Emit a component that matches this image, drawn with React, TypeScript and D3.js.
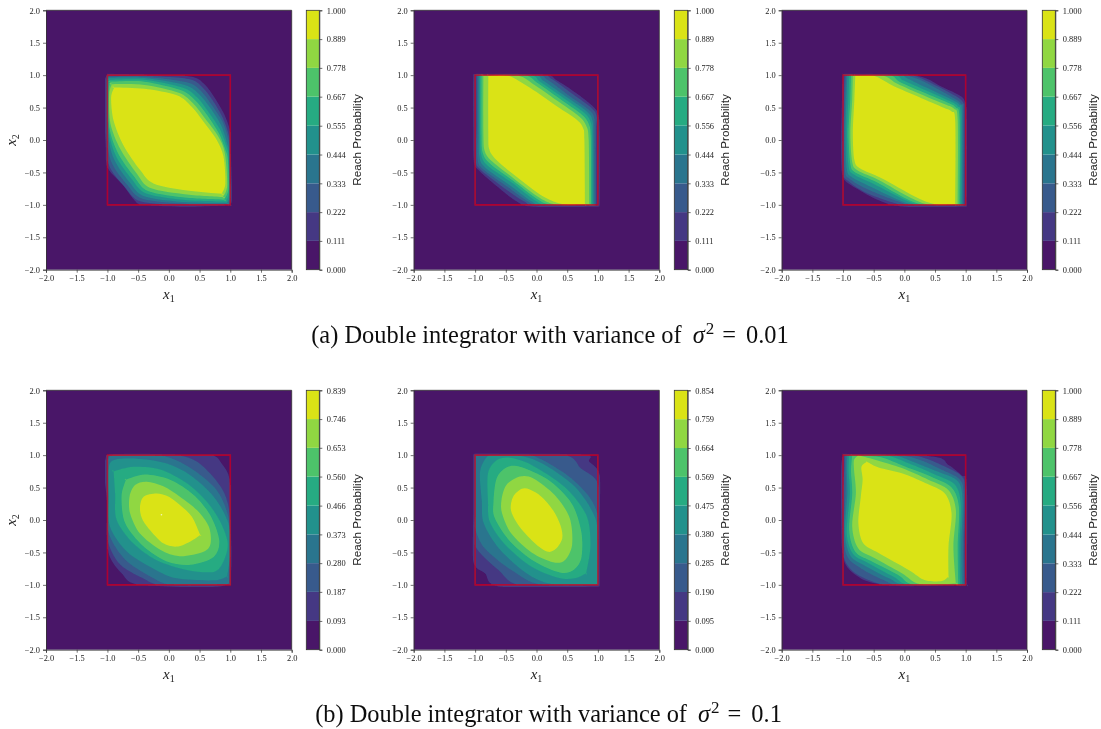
import React, { useEffect, useRef } from "react";
import * as d3 from "d3";

type Pt = [number, number];

const axisTicks = [-2, -1.5, -1, -0.5, 0, 0.5, 1, 1.5, 2];
const boxCorners: Pt[] = [[-1, 1], [1, 1], [1, -1], [-1, -1]];
const outerClip = { xMin: -1.04, xMax: 1.04, yMin: -1.035, yMax: 1.025 };
const innerClip = { xMin: -1.012, xMax: 1.012, yMin: -1.005, yMax: 1.005 };

const cbarA1 = [0, 0.111, 0.222, 0.333, 0.444, 0.555, 0.667, 0.778, 0.889, 1];
const cbarStd = [0, 0.111, 0.222, 0.333, 0.444, 0.556, 0.667, 0.778, 0.889, 1];
const cbarB1 = [0, 0.093, 0.187, 0.28, 0.373, 0.466, 0.56, 0.653, 0.746, 0.839];
const cbarB2 = [0, 0.095, 0.19, 0.285, 0.38, 0.475, 0.569, 0.664, 0.759, 0.854];

// Contour rings, lowest level first, in data coordinates
const ringsA1: Pt[][] = [
  [[-1,1.02],[-.4,1.01],[.35,.98],[.58,.86],[.74,.66],[.9,.4],[1,.12],[1.01,-.2],[1.03,-.9],[.98,-1.01],[.2,-1.03],[-.42,-1],[-.56,-.93],[-.76,-.68],[-1,-.42],[-1.03,-.05],[-1.06,.8]],
  [[-1,.99],[-.4,.99],[.32,.94],[.55,.81],[.72,.6],[.88,.34],[.98,.06],[1,-.2],[1.01,-.9],[.97,-1],[.3,-1.01],[-.45,-.95],[-.72,-.72],[-.97,-.4],[-1.02,0],[-1.04,.8]],
  [[-.99,.975],[-.4,.975],[.29,.89],[.52,.76],[.69,.55],[.87,.29],[.97,.01],[.99,-.2],[1,-.88],[.96,-.99],[.3,-.985],[-.42,-.91],[-.68,-.69],[-.93,-.35],[-1.01,.05],[-1.02,.85]],
  [[-.98,.96],[-.4,.955],[.26,.85],[.49,.71],[.67,.5],[.85,.23],[.95,-.05],[.98,-.2],[.99,-.85],[.94,-.97],[.3,-.96],[-.39,-.87],[-.64,-.65],[-.89,-.3],[-.99,.1],[-1,.85]],
  [[-.97,.93],[-.4,.93],[.22,.81],[.46,.66],[.64,.44],[.83,.17],[.94,-.1],[.97,-.25],[.98,-.8],[.92,-.95],[.3,-.93],[-.36,-.83],[-.6,-.61],[-.86,-.25],[-.98,.15],[-.99,.8]],
  [[-.95,.9],[-.4,.9],[.19,.77],[.43,.61],[.62,.39],[.81,.11],[.92,-.15],[.96,-.3],[.97,-.75],[.9,-.92],[.3,-.89],[-.33,-.79],[-.56,-.57],[-.83,-.2],[-.97,.2],[-.98,.75]],
  [[-.93,.86],[-.4,.85],[.16,.73],[.4,.56],[.59,.33],[.8,.06],[.91,-.2],[.95,-.7],[.88,-.88],[.3,-.84],[-.3,-.74],[-.52,-.52],[-.79,-.14],[-.95,.25],[-.97,.7]],
  [[-.89,.81],[-.4,.79],[.13,.69],[.375,.51],[.565,.28],[.78,0],[.89,-.26],[.92,-.67],[.86,-.83],[.3,-.78],[-.25,-.67],[-.47,-.46],[-.74,-.08],[-.9,.3],[-.94,.65]],
];

const ringsA2: Pt[][] = [
  [[-1,1.02],[.11,1.01],[.33,.92],[.65,.72],[.93,.51],[1.01,.38],[1.03,.1],[1.03,-.98],[1,-1.03],[-.05,-1.03],[-.32,-.95],[-.7,-.67],[-.95,-.46],[-1.02,-.33],[-1.03,.2],[-1.03,.98]],
  [[-.98,1.01],[.05,1.005],[.25,.94],[.6,.7],[.9,.49],[.98,.36],[.97,.1],[.97,-1.02],[0,-1.02],[-.2,-.95],[-.5,-.76],[-.91,-.46],[-.99,-.31],[-.98,.2]],
  [[-.96,1],[0,1],[.18,.93],[.55,.67],[.86,.46],[.94,.34],[.945,.08],[.95,-1.01],[.06,-1.01],[-.14,-.95],[-.46,-.73],[-.87,-.45],[-.96,-.29],[-.96,.15]],
  [[-.94,1],[-.05,1],[.12,.91],[.51,.65],[.82,.44],[.91,.31],[.925,.07],[.93,-1],[.12,-1.01],[-.09,-.94],[-.43,-.7],[-.83,-.43],[-.93,-.26],[-.94,.15]],
  [[-.92,1],[-.11,1],[.07,.89],[.47,.63],[.78,.42],[.88,.28],[.905,.05],[.91,-1],[.18,-1],[-.03,-.93],[-.4,-.66],[-.79,-.4],[-.9,-.23],[-.92,.1]],
  [[-.895,1],[-.2,1],[.03,.87],[.43,.6],[.74,.39],[.85,.25],[.885,.02],[.89,-1],[.26,-1],[.01,-.91],[-.38,-.63],[-.75,-.37],[-.875,-.2],[-.895,.1]],
  [[-.865,.99],[-.3,.99],[-.02,.84],[.39,.57],[.7,.36],[.81,.22],[.85,0],[.86,-1],[.34,-1],[.05,-.89],[-.36,-.6],[-.71,-.34],[-.84,-.18],[-.865,.1]],
  [[-.785,.99],[-.46,.99],[-.1,.8],[.33,.52],[.66,.31],[.76,.18],[.78,0],[.79,-.99],[.44,-.99],[.11,-.87],[-.32,-.57],[-.66,-.3],[-.77,-.14],[-.785,.1]],
];

const ringsA3: Pt[][] = [
  [[-.995,1.02],[.01,1.01],[.36,.95],[.61,.82],[.93,.67],[1,.54],[1.02,.3],[1.02,-1.03],[0,-1.03],[-.42,-.93],[-.91,-.67],[-1.01,-.54],[-1.03,-.3],[-1.03,.1],[-1.01,.85]],
  [[-.97,1.01],[0,1.01],[.2,.98],[.5,.85],[.87,.66],[.97,.56],[.98,.45],[.98,-1.02],[.1,-1.02],[-.2,-.96],[-.65,-.8],[-.92,-.63],[-1,-.5],[-1,.1],[-.98,.85]],
  [[-.95,1],[-.05,1],[.13,.97],[.4,.86],[.82,.64],[.93,.55],[.96,.42],[.96,-1.01],[.16,-1.01],[-.1,-.95],[-.6,-.76],[-.89,-.6],[-.97,-.47],[-.98,.1],[-.96,.8]],
  [[-.93,1],[-.1,1],[.05,.95],[.33,.82],[.78,.62],[.9,.54],[.94,.4],[.94,-1],[.22,-1],[-.05,-.94],[-.55,-.72],[-.86,-.57],[-.94,-.44],[-.96,.1],[-.94,.75]],
  [[-.9,1],[-.17,1],[-.02,.92],[.29,.79],[.74,.6],[.87,.52],[.92,.35],[.92,-1],[.28,-1],[0,-.92],[-.5,-.68],[-.83,-.53],[-.91,-.4],[-.935,.1],[-.91,.7]],
  [[-.87,1],[-.25,1],[-.08,.9],[.25,.76],[.7,.58],[.84,.5],[.9,.32],[.9,-1],[.34,-1],[.04,-.91],[-.45,-.65],[-.8,-.5],[-.88,-.37],[-.91,.1],[-.88,.65]],
  [[-.84,.99],[-.35,.99],[-.14,.88],[.21,.73],[.66,.55],[.81,.48],[.87,.3],[.87,-1],[.42,-1],[.1,-.89],[-.41,-.62],[-.76,-.47],[-.85,-.34],[-.88,.1],[-.85,.62]],
  [[-.8,.99],[-.5,.99],[-.21,.85],[.17,.69],[.61,.51],[.77,.44],[.83,.28],[.83,-.99],[.5,-.99],[.17,-.87],[-.37,-.59],[-.72,-.44],[-.815,-.31],[-.84,.1],[-.815,.62]],
];

const ringsB1: Pt[][] = [
  [[-1,.2],[-1.05,.7],[-1.03,.95],[-.95,1.01],[-.4,1.02],[.4,1],[.73,.99],[.86,.87],[.99,.62],[1,0],[1.02,-.5],[.99,-.9],[.78,-1.03],[-.47,-1],[-.77,-.82],[-.96,-.57],[-1,-.3]],
  [[-1,.2],[-1.01,.92],[-.95,1.01],[0,1.01],[.4,.93],[.67,.72],[.9,.42],[1,.05],[1.01,-.5],[1.01,-1],[.85,-1.01],[-.1,-1.01],[-.42,-.9],[-.8,-.68],[-1,-.3]],
  [[-1,.3],[-1,.88],[-.95,1],[-.2,1],[.1,.93],[.42,.76],[.78,.46],[.97,.05],[1,-.45],[.98,-.97],[.85,-1],[.05,-1],[-.3,-.87],[-.72,-.6],[-.98,-.2]],
  [[-.98,.36],[-.98,.8],[-.875,.93],[-.47,.94],[-.03,.87],[.35,.69],[.73,.36],[.97,-.05],[1,-.51],[.95,-.87],[.73,-.93],[.13,-.9],[-.25,-.75],[-.68,-.49],[-.96,-.1]],
  [[-.875,.41],[-.9,.75],[-.58,.82],[-.14,.78],[.29,.57],[.62,.28],[.84,-.03],[.96,-.36],[.89,-.64],[.73,-.8],[.29,-.77],[-.2,-.62],[-.58,-.36],[-.85,0]],
  [[-.77,.36],[-.7,.62],[-.39,.7],[.02,.62],[.4,.39],[.67,.08],[.82,-.31],[.73,-.57],[.35,-.69],[-.03,-.64],[-.41,-.41],[-.71,-.05]],
  [[-.64,.36],[-.55,.54],[-.36,.59],[-.09,.52],[.18,.36],[.46,.15],[.65,-.1],[.68,-.36],[.565,-.49],[.18,-.56],[-.14,-.46],[-.47,-.21],[-.63,.1]],
  [[-.47,.2],[-.41,.36],[-.2,.41],[0,.36],[.18,.23],[.375,.05],[.51,-.23],[.35,-.33],[.13,-.41],[-.09,-.36],[-.33,-.13],[-.44,.03]],
];

const ringsB2: Pt[][] = [
  [[-1.03,.1],[-1.03,1.03],[.73,1.01],[.86,.9],[1.03,.69],[1.03,0],[1.03,-1.03],[-.57,-1.03],[-.84,-.82],[-1.03,-.64]],
  [[-1.01,.1],[-1.01,1.01],[.41,1.01],[.73,.79],[1.01,.54],[1.01,-.2],[1.01,-1.01],[-.24,-1.01],[-.62,-.77],[-1.01,-.38]],
  [[-1,.1],[-1,1],[-.5,1],[-.08,1],[.46,.72],[.84,.38],[1,.05],[1,-.5],[1,-1],[.08,-1],[-.41,-.77],[-.84,-.44],[-1,-.13]],
  [[-.89,.28],[-.92,.74],[-.81,.97],[-.7,1],[-.32,1],[.08,.88],[.62,.52],[.95,.05],[1,-.38],[1,-.97],[.92,-1],[.3,-1],[-.12,-.85],[-.6,-.45],[-.86,-.05]],
  [[-.79,.28],[-.79,.72],[-.65,.92],[-.43,.96],[-.08,.85],[.46,.51],[.81,.08],[.88,-.38],[.81,-.82],[.62,-.9],[.35,-.89],[-.08,-.72],[-.51,-.38],[-.76,-.03]],
  [[-.7,.28],[-.65,.64],[-.49,.81],[-.27,.82],[.19,.62],[.57,.26],[.73,-.18],[.73,-.59],[.59,-.78],[.38,-.81],[-.03,-.64],[-.43,-.33],[-.68,.03]],
  [[-.57,.31],[-.49,.54],[-.27,.67],[-.05,.64],[.3,.38],[.54,.03],[.58,-.38],[.46,-.62],[.27,-.65],[-.08,-.5],[-.41,-.21],[-.56,.1]],
  [[-.42,.18],[-.38,.36],[-.24,.48],[-.11,.47],[.08,.36],[.27,.15],[.39,-.08],[.42,-.28],[.32,-.44],[.19,-.49],[0,-.38],[-.22,-.17],[-.36,.02]],
];

const ringsB3: Pt[][] = [
  [[-.995,1.02],[.45,.98],[.72,.85],[.93,.69],[1.02,.51],[1.02,-1],[-.04,-1.02],[-.59,-.95],[-.91,-.75],[-1.01,-.51],[-1.03,0],[-1.03,.8]],
  [[-.98,1.01],[0,1.01],[.35,.95],[.67,.82],[.94,.67],[.99,.45],[.98,-.4],[.99,-1.01],[-.1,-1.02],[-.45,-.97],[-.8,-.82],[-.97,-.62],[-1.01,-.3],[-1,.4],[-.98,.8]],
  [[-.96,1],[-.1,1],[.25,.93],[.6,.78],[.9,.63],[.97,.38],[.96,-.4],[.97,-1],[-.05,-1.01],[-.33,-.93],[-.7,-.75],[-.92,-.58],[-.99,-.25],[-.96,.4],[-.96,.8]],
  [[-.93,1],[-.2,1],[.14,.9],[.53,.75],[.87,.6],[.95,.3],[.93,-.4],[.94,-1],[.02,-1],[-.25,-.9],[-.65,-.7],[-.88,-.55],[-.97,-.2],[-.93,.4],[-.94,.8]],
  [[-.9,1],[-.3,1],[.08,.87],[.48,.71],[.82,.55],[.92,.25],[.9,-.4],[.91,-1],[.08,-1],[-.17,-.88],[-.6,-.66],[-.84,-.52],[-.94,-.2],[-.89,.4],[-.91,.75]],
  [[-.85,1],[-.4,.97],[.02,.82],[.43,.67],[.77,.5],[.89,.2],[.87,-.4],[.88,-1],[.15,-1],[-.1,-.85],[-.55,-.63],[-.8,-.49],[-.9,-.15],[-.85,.4],[-.87,.75]],
  [[-.82,.93],[-.75,1],[-.48,.93],[-.04,.8],[.39,.62],[.72,.46],[.84,.15],[.8,-.41],[.84,-.98],[.26,-.99],[-.04,-.82],[-.48,-.59],[-.75,-.44],[-.85,-.1],[-.79,.41],[-.82,.77]],
  [[-.7,.82],[-.61,.9],[-.42,.81],[-.04,.72],[.34,.57],[.66,.41],[.77,.1],[.72,-.41],[.72,-.87],[.61,-.94],[.34,-.93],[.07,-.77],[-.42,-.51],[-.67,-.36],[-.75,-.05],[-.71,.36],[-.68,.62]],
];

const whiteDotB1: Pt = [-0.12, 0.08];

const columns = [
  { x0: 46, x1: 291.7, c0: 306.3, c1: 319.3 },
  { x0: 413.7, x1: 659.3, c0: 674.3, c1: 687.7 },
  { x0: 781.7, x1: 1027, c0: 1042.3, c1: 1055.3 },
];
const rows = [
  { y0: 10.3, y1: 269.7 },
  { y0: 390.3, y1: 649.7 },
];

const panels = [
  { id: "a1", col: 0, row: 0, rings: ringsA1, cbar: cbarA1, ylabel: true, dot: false },
  { id: "a2", col: 1, row: 0, rings: ringsA2, cbar: cbarStd, ylabel: false, dot: false },
  { id: "a3", col: 2, row: 0, rings: ringsA3, cbar: cbarStd, ylabel: false, dot: false },
  { id: "b1", col: 0, row: 1, rings: ringsB1, cbar: cbarB1, ylabel: true, dot: true },
  { id: "b2", col: 1, row: 1, rings: ringsB2, cbar: cbarB2, ylabel: false, dot: false },
  { id: "b3", col: 2, row: 1, rings: ringsB3, cbar: cbarStd, ylabel: false, dot: false },
];

const bandColor = (i: number) => d3.interpolateViridis((i + 0.5) / 9);
const minus = (s: string) => s.replace("-", "\u2212");
const SERIF = "'Liberation Serif', serif";
const SANS = "'Liberation Sans', sans-serif";
const AXIS = "#333";

// Sharp bends are doubled so the spline keeps them as corners instead of bulging past them
function keepCorners(pts: Pt[]): Pt[] {
  const n = pts.length;
  const out: Pt[] = [];
  pts.forEach((p, i) => {
    const a = pts[(i + n - 1) % n];
    const b = pts[(i + 1) % n];
    const t1 = Math.atan2(p[1] - a[1], p[0] - a[0]);
    const t2 = Math.atan2(b[1] - p[1], b[0] - p[0]);
    let d = Math.abs(t2 - t1);
    if (d > Math.PI) d = 2 * Math.PI - d;
    out.push(p);
    if (d > 1.0) out.push(p);
  });
  return out;
}

function styleAxis(sel: d3.Selection<any, any, any, any>) {
  sel.selectAll("path").attr("stroke", AXIS).attr("stroke-width", 0.8);
  sel.selectAll("line").attr("stroke", AXIS).attr("stroke-width", 0.7);
  sel.selectAll("text").attr("fill", "#222").attr("font-family", SERIF).attr("font-size", 8.4);
}

function Panel({ id, col, row, rings, cbar, ylabel, dot }: (typeof panels)[number]) {
  const c = columns[col];
  const r = rows[row];
  const x = d3.scaleLinear().domain([-2, 2]).range([c.x0, c.x1]);
  const y = d3.scaleLinear().domain([-2, 2]).range([r.y1, r.y0]);
  const cy = d3.scaleLinear().domain([0, cbar[cbar.length - 1]]).range([r.y1, r.y0]);
  const ring = d3
    .line<Pt>()
    .x((d) => x(d[0]))
    .y((d) => y(d[1]))
    .curve(d3.curveCardinalClosed.tension(0.1));
  const box = d3
    .line<Pt>()
    .x((d) => x(d[0]))
    .y((d) => y(d[1]))
    .curve(d3.curveLinearClosed);

  const bx = useRef<SVGGElement>(null);
  const ly = useRef<SVGGElement>(null);
  const cb = useRef<SVGGElement>(null);
  useEffect(() => {
    const fmt = (d: any) => minus(d3.format(".1f")(d));
    d3.select(bx.current!)
      .call(d3.axisBottom(x).tickValues(axisTicks).tickFormat(fmt).tickSize(3).tickPadding(2))
      .call(styleAxis);
    d3.select(ly.current!)
      .call(d3.axisLeft(y).tickValues(axisTicks).tickFormat(fmt).tickSize(3).tickPadding(3))
      .call(styleAxis);
    d3.select(cb.current!)
      .call(d3.axisRight(cy).tickValues(cbar).tickFormat(d3.format(".3f") as any).tickSize(3).tickPadding(4.5))
      .call(styleAxis);
  }, []);

  const midX = (c.x0 + c.x1) / 2;
  const midY = (r.y0 + r.y1) / 2;
  const clipRect = (e: typeof outerClip, radius: number) => (
    <rect
      x={x(e.xMin)}
      y={y(e.yMax)}
      width={x(e.xMax) - x(e.xMin)}
      height={y(e.yMin) - y(e.yMax)}
      rx={radius}
    />
  );
  return (
    <g>
      <clipPath id={`outer-${id}`}>{clipRect(outerClip, 3)}</clipPath>
      <clipPath id={`inner-${id}`}>{clipRect(innerClip, 1)}</clipPath>
      <rect x={c.x0} y={r.y0} width={c.x1 - c.x0} height={r.y1 - r.y0} fill={bandColor(0)} />
      {rings.map((pts, i) => (
        <g key={i} clipPath={`url(#${i === 0 ? "outer" : "inner"}-${id})`}>
          <path d={ring(keepCorners(pts)) ?? ""} fill={bandColor(i + 1)} />
        </g>
      ))}
      {dot && <circle cx={x(whiteDotB1[0])} cy={y(whiteDotB1[1])} r={0.8} fill="#f4f6c0" />}
      <path d={box(boxCorners) ?? ""} fill="none" stroke="#d6001c" strokeOpacity={0.72} strokeWidth={1.6} />
      <g ref={bx} transform={`translate(0,${r.y1})`} />
      <g ref={ly} transform={`translate(${c.x0},0)`} />
      <path d={`M${c.x1},${r.y0}H${c.x0}`} stroke={AXIS} strokeWidth={0.8} />
      <path d={`M${c.x1},${r.y0}V${r.y1}`} stroke={AXIS} strokeWidth={0.8} />
      <text x={midX} y={r.y1 + 29} textAnchor="middle" fontFamily={SERIF} fontStyle="italic" fontSize={15} fill="#222">
        x<tspan dy={3} fontSize={10} fontStyle="normal">1</tspan>
      </text>
      {ylabel && (
        <text transform={`translate(${c.x0 - 30},${midY}) rotate(-90)`} textAnchor="middle" fontFamily={SERIF} fontStyle="italic" fontSize={15} fill="#222">
          x<tspan dy={3} fontSize={10} fontStyle="normal">2</tspan>
        </text>
      )}
      {cbar.slice(0, -1).map((v, i) => (
        <rect key={i} x={c.c0} y={cy(cbar[i + 1])} width={c.c1 - c.c0} height={cy(v) - cy(cbar[i + 1])} fill={bandColor(i)} />
      ))}
      <rect x={c.c0} y={r.y0} width={c.c1 - c.c0} height={r.y1 - r.y0} fill="none" stroke={AXIS} strokeWidth={0.8} />
      <g ref={cb} transform={`translate(${c.c1},0)`} />
      <text transform={`translate(${c.c1 + 41.5},${midY}) rotate(-90)`} textAnchor="middle" fontFamily={SANS} fontSize={11.7} fill="#222">
        Reach Probability
      </text>
    </g>
  );
}

function Caption({ x, y, tag, value }: { x: number; y: number; tag: string; value: string }) {
  return (
    <text x={x} y={y} textAnchor="middle" fontFamily={SERIF} fontSize={24.4} fill="#111">
      {`(${tag}) Double integrator with variance of `}
      <tspan dx={5} fontStyle="italic">{"\u03C3"}</tspan>
      <tspan dy={-9} dx={1} fontSize={17}>2</tspan>
      <tspan dy={9} dx={8}>=</tspan>
      <tspan dx={10}>{value}</tspan>
    </text>
  );
}

export default function App() {
  return (
    <svg width={1101} height={729} viewBox="0 0 1101 729" style={{ position: "absolute", left: 0, top: 0, display: "block" }}>
      <defs>
        <filter id="soft" x="0" y="0" width="1101" height="729" filterUnits="userSpaceOnUse" primitiveUnits="userSpaceOnUse">
          <feGaussianBlur stdDeviation={0.35} />
        </filter>
      </defs>
      <rect width={1101} height={729} fill="#fff" />
      <g filter="url(#soft)">
        {panels.map((p, i) => (
          <Panel key={i} {...p} />
        ))}
        <Caption x={550} y={343} tag="a" value="0.01" />
        <Caption x={548.5} y={722} tag="b" value="0.1" />
      </g>
    </svg>
  );
}
